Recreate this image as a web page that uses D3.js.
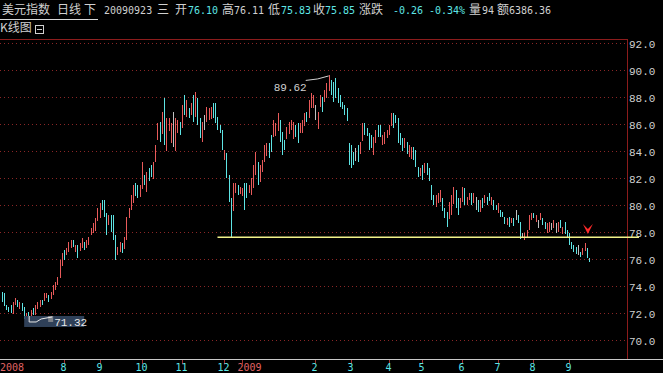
<!DOCTYPE html>
<html>
<head>
<meta charset="utf-8">
<script src="https://cdn.jsdelivr.net/npm/d3@7"></script>
<style>
  html, body { margin: 0; padding: 0; background: #000; }
  svg { display: block; }
</style>
</head>
<body>
<div id="chart"></div>
<script>
// daily bars, [open, high, low, close]
const bars = [
  [73.5,73.6,72.86,73.0],[73.3,73.47,72.49,72.7],[72.55,72.61,72.24,72.3],[72.45,72.49,72.12,72.2],[72.5,72.61,71.99,72.1],
  [72.1,72.86,71.99,72.8],[72.7,73.11,72.61,73.0],[72.9,72.98,72.49,72.6],[72.45,72.86,72.37,72.75],[72.7,72.74,72.12,72.2],
  [72.4,72.49,71.63,71.8],[71.5,72.0,71.32,71.9],[72.0,72.12,71.63,71.7],[71.8,72.24,71.75,72.2],[72.3,72.37,71.87,71.95],
  [71.95,72.61,71.87,72.55],[72.45,72.86,72.37,72.8],[72.6,72.98,72.49,72.9],[72.9,72.98,72.61,72.7],[72.9,73.47,72.86,73.4],
  [73.15,73.47,73.11,73.4],[73.3,73.35,72.86,72.95],[73.15,73.6,73.11,73.55],[73.4,74.1,73.35,74.0],[73.8,74.34,73.72,74.3],
  [74.15,74.71,74.1,74.65],[74.7,75.95,74.59,75.85],[75.6,76.44,75.45,76.35],[76.6,76.69,75.95,76.1],[76.4,76.81,76.32,76.75],
  [76.65,77.31,76.56,77.2],[76.9,77.43,76.81,77.35],[77.35,77.43,76.93,77.0],[76.6,77.06,76.56,77.0],[76.95,77.06,76.07,76.2],
  [76.6,77.18,76.56,77.1],[76.9,77.55,76.81,77.45],[77.25,77.31,76.69,76.8],[76.85,77.43,76.81,77.35],[77.1,77.68,77.06,77.6],
  [77.85,78.29,77.8,78.25],[78.0,78.66,77.92,78.6],[78.1,79.03,78.05,78.95],[78.85,79.77,78.79,79.7],[79.1,80.14,79.03,80.05],
  [80.3,80.39,79.65,79.75],[80.2,80.39,79.16,79.3],[79.3,79.4,77.8,78.0],[78.6,79.28,78.54,79.2],[79.2,79.28,78.05,78.2],
  [79.1,79.28,77.43,77.6],[77.6,77.8,75.95,76.1],[76.35,76.93,76.32,76.85],[76.6,77.31,76.56,77.2],[77.1,77.18,76.44,76.6],
  [76.9,77.68,76.81,77.6],[77.5,79.16,77.43,79.0],[79.1,79.77,79.03,79.7],[79.7,80.76,79.65,80.7],[80.2,81.5,80.14,81.4],
  [81.5,81.63,80.64,80.8],[81.4,81.5,80.51,80.6],[80.7,81.5,80.64,81.4],[81.35,83.23,81.26,82.9],[82.2,82.24,81.5,81.6],
  [81.1,82.49,81.01,82.4],[82.6,82.74,81.75,81.9],[82.9,82.98,82.12,82.2],[82.1,83.23,82.0,83.1],[83.3,84.47,83.23,84.4],
  [84.9,86.07,84.84,86.0],[86.1,86.19,84.71,84.9],[85.4,86.93,85.33,86.8],[87.8,87.92,84.47,84.8],[84.2,86.44,83.97,86.3],
  [85.5,86.44,85.45,86.35],[84.7,86.07,84.59,86.0],[85.5,86.93,84.34,85.5],[84.1,86.44,83.97,86.3],[85.4,86.32,85.33,86.2],
  [86.1,86.19,85.21,85.3],[85.8,87.43,85.7,87.3],[88.0,88.17,86.69,86.9],[86.6,87.8,86.56,87.7],[87.1,87.18,86.44,86.5],
  [86.75,87.55,86.69,87.45],[88.0,88.17,86.19,86.4],[86.6,88.42,86.56,88.3],[87.8,87.92,85.95,86.1],[86.3,86.44,84.96,85.1],
  [84.8,86.19,84.71,86.1],[86.1,86.69,85.58,86.1],[86.3,87.3,86.19,87.2],[86.4,87.18,86.32,87.1],[86.5,87.3,86.44,87.2],
  [87.45,87.55,86.44,86.6],[87.4,87.55,86.07,86.2],[86.5,86.56,85.58,85.7],[85.9,85.95,85.33,85.4],[85.5,85.58,84.1,84.2],
  [83.45,84.1,83.35,84.0],[83.8,83.85,82.0,82.2],[82.1,82.24,80.27,80.5],[80.4,80.51,77.63,78.0],[79.6,81.62,79.53,81.5],
  [80.95,81.62,80.88,81.55],[81.4,81.5,80.76,80.9],[80.95,81.38,80.88,81.3],[80.7,81.25,80.64,81.2],[81.5,81.62,79.65,80.0],
  [81.5,81.62,80.51,80.7],[80.95,81.5,80.88,81.4],[80.85,81.99,80.76,81.9],[81.35,82.98,81.25,82.9],[82.3,83.97,82.24,83.9],
  [83.1,83.23,81.5,81.7],[81.8,82.98,81.75,82.9],[82.55,83.35,82.49,83.3],[83.3,84.47,83.23,84.4],[83.65,84.59,83.6,84.5],
  [84.5,84.59,83.48,83.6],[85.1,85.21,83.97,84.1],[85.15,86.32,85.08,86.2],[85.15,86.07,85.08,86.0],[85.5,86.81,85.45,86.7],
  [86.2,86.32,84.71,84.9],[85.3,85.45,83.72,83.9],[84.8,84.84,84.1,84.2],[85.0,85.82,84.96,85.75],[85.4,86.19,85.33,86.1],
  [85.65,86.32,85.58,86.25],[85.0,86.19,84.96,86.1],[85.9,85.95,85.08,85.15],[85.95,86.07,84.59,84.8],[85.4,86.07,85.33,86.0],
  [85.4,86.32,85.33,86.25],[85.9,86.81,85.82,86.75],[86.85,86.93,86.19,86.25],[86.5,87.8,86.44,87.7],[87.25,88.29,87.18,88.2],
  [87.25,88.17,87.18,88.1],[86.9,87.43,86.32,86.9],[85.8,86.93,85.7,86.85],[87.35,88.17,87.3,88.1],[87.95,88.04,86.93,87.0],
  [87.7,88.54,87.67,88.45],[87.95,89.03,87.92,88.95],[88.5,89.62,88.41,89.5],[89.2,89.28,88.17,88.3],[89.0,89.16,87.67,87.8],
  [89.3,89.4,87.92,88.1],[88.6,88.66,87.55,87.6],[88.1,88.17,87.3,87.4],[87.6,87.67,87.18,87.25],[87.4,87.43,86.69,86.8],
  [87.1,87.18,86.19,86.3],[84.5,84.59,82.98,83.2],[84.4,84.47,82.74,82.9],[83.9,83.97,82.98,83.1],[83.7,84.22,83.23,83.7],
  [84.4,84.47,83.23,83.4],[83.9,84.71,83.85,84.65],[84.8,86.07,84.71,86.0],[86.0,86.07,85.21,85.3],[85.65,85.7,85.08,85.15],
  [85.25,85.33,84.1,84.2],[85.15,85.21,84.22,84.3],[83.8,85.08,83.72,85.0],[84.65,85.58,84.59,85.5],[85.9,85.95,85.08,85.15],
  [85.85,85.95,85.08,85.2],[84.55,85.21,84.47,85.15],[84.65,85.45,84.59,85.4],[85.0,85.58,84.96,85.5],[85.25,85.95,85.21,85.9],
  [85.9,86.81,85.82,86.75],[86.7,86.81,85.7,85.8],[86.6,86.69,86.07,86.15],[86.35,86.44,84.59,84.7],[85.25,85.33,84.47,84.55],
  [84.9,84.96,83.97,84.05],[84.3,84.96,84.22,84.9],[84.65,84.71,83.85,83.95],[83.65,84.47,83.6,84.4],[83.55,84.34,83.48,84.25],
  [84.25,84.34,83.36,83.45],[84.0,84.1,82.86,83.0],[82.8,82.86,82.12,82.2],[82.2,82.74,82.12,82.7],[82.9,82.99,81.87,82.0],
  [82.45,83.11,82.37,83.05],[83.0,83.11,82.24,82.35],[82.65,82.74,81.75,81.85],[81.4,81.5,80.39,80.5],[80.7,80.76,80.02,80.1],
  [80.0,80.76,79.9,80.7],[80.2,80.89,80.15,80.8],[80.35,81.13,80.27,81.05],[80.45,80.52,79.53,79.6],[79.7,79.78,79.04,79.1],
  [79.45,79.53,78.42,78.5],[79.1,80.27,79.04,80.2],[79.35,80.76,79.28,80.7],[80.2,81.38,80.15,81.3],[81.05,81.13,79.78,79.9],
  [80.45,80.52,79.28,79.4],[79.85,80.52,79.78,80.45],[80.35,81.38,80.27,81.3],[81.15,81.26,80.02,80.1],[80.1,80.64,80.02,80.6],
  [80.45,80.89,80.39,80.85],[80.8,80.89,80.02,80.1],[80.2,80.89,80.15,80.85],[80.1,80.64,79.65,80.1],[80.3,80.39,79.53,79.6],
  [79.6,80.39,79.53,80.3],[80.45,80.52,79.78,79.85],[80.2,80.76,80.15,80.7],[80.6,80.64,80.02,80.1],[80.85,80.89,80.27,80.35],
  [80.1,80.64,80.02,80.6],[80.35,80.39,79.65,79.75],[80.0,80.02,79.65,79.7],[79.45,80.15,79.41,80.1],[79.6,79.65,79.16,79.2],
  [79.5,79.53,79.16,79.2],[79.1,79.16,78.67,78.75],[78.6,79.04,78.54,79.0],[79.1,79.16,78.42,78.5],[78.7,79.04,78.67,79.0],
  [79.0,79.04,78.42,78.5],[79.2,79.65,78.91,79.2],[79.2,79.28,78.67,78.75],[78.7,78.79,77.55,77.7],[77.75,77.92,77.55,77.75],
  [77.5,77.92,77.43,77.9],[77.7,78.17,77.68,78.1],[78.2,79.28,78.17,79.2],[78.95,79.41,78.91,79.35],[79.35,79.41,79.04,79.1],
  [78.85,79.28,78.79,79.2],[78.6,78.91,78.29,78.6],[78.95,79.41,78.91,79.35],[79.0,79.04,78.54,78.6],[78.75,78.79,78.29,78.35],
  [78.0,78.66,77.92,78.6],[78.1,78.79,78.05,78.7],[78.4,78.66,78.17,78.4],[78.35,78.91,78.29,78.85],[78.3,78.66,77.92,78.3],
  [78.1,78.79,78.05,78.7],[78.85,78.91,78.29,78.35],[77.95,78.42,77.92,78.35],[78.7,78.79,77.92,78.0],[78.1,78.17,77.68,77.75],
  [77.85,77.92,77.06,77.15],[77.25,77.31,76.81,76.9],[77.0,77.06,76.57,76.65],[76.9,76.94,76.44,76.5],[76.7,77.06,76.32,76.7],
  [76.5,76.57,76.2,76.25],[76.35,76.81,76.32,76.75],[76.6,77.18,76.57,77.1],[76.75,76.81,76.07,76.11],[76.10,76.11,75.83,75.85]
];

const yTicks = [70, 72, 74, 76, 78, 80, 82, 84, 86, 88, 90, 92];
const monthLabels = ["2008", "8", "9", "10", "11", "12", "2009", "2", "3", "4", "5", "6", "7", "8", "9"];
const monthIdx = [0, 28, 44, 63, 81, 100, 108, 141, 157, 174, 189, 207, 223, 239, 255];

const lastDate = "20090923", lastWeekday = "三";
const lastVolume = 94, lastAmount = 6386.36;
const supportLevel = 77.63, supportFrom = 97;   // drawn horizontal line
const signalIdx = 263.5, signalPrice = 77.87;   // red arrow

const width = 663, height = 373;
const UP = "#e85a5a", DOWN = "#5ee4e4", FLAT = "#c0c0c0";
const TXT = "#d0d0d0", CYAN = "#5ee6e6", GRID = "#8a2626";
const cjk = "'Noto Sans CJK SC', sans-serif";
const mono = "'DejaVu Sans Mono', monospace";

const svg = d3.select("#chart").append("svg")
    .attr("width", width)
    .attr("height", height)
    .style("background", "#000");

const x = d3.scaleLinear().domain([0, bars.length - 1]).range([1.7, 589]);
const y = d3.scaleLinear().domain([70, 92]).range([340.3, 43.3]);

// grid
svg.append("g").selectAll("line")
    .data(yTicks)
    .join("line")
    .attr("x1", 0).attr("x2", 627)
    .attr("y1", d => Math.round(y(d)) + 0.5)
    .attr("y2", d => Math.round(y(d)) + 0.5)
    .attr("stroke", GRID)
    .attr("stroke-dasharray", "1,3");

// frame
svg.append("line").attr("x1", 0).attr("x2", 628).attr("y1", 39.5).attr("y2", 39.5).attr("stroke", "#8c1c1c");
svg.append("line").attr("x1", 627.5).attr("x2", 627.5).attr("y1", 39).attr("y2", 359).attr("stroke", "#8c1c1c");

// y labels
svg.append("g").selectAll("text")
    .data(yTicks)
    .join("text")
    .attr("x", 629)
    .attr("y", d => y(d) + 1)
    .attr("dy", "0.35em")
    .attr("fill", TXT)
    .style("font", `11px 'Liberation Mono', monospace`)
    .text(d => d.toFixed(1));

// candles (1px lines at this density)
svg.append("g").selectAll("rect")
    .data(bars)
    .join("rect")
    .attr("x", (d, i) => Math.round(x(i)))
    .attr("y", d => Math.round(y(d[1])))
    .attr("width", 1)
    .attr("height", d => Math.max(1, Math.round(y(d[2]) - y(d[1]))))
    .attr("fill", d => d[3] > d[0] ? UP : d[3] < d[0] ? DOWN : FLAT)
    .attr("shape-rendering", "crispEdges");

// support line
svg.append("line")
    .attr("x1", x(supportFrom)).attr("x2", 639)
    .attr("y1", y(supportLevel)).attr("y2", y(supportLevel))
    .attr("stroke", "#f2f28a")
    .attr("stroke-width", 1.4);

// signal arrow
const ax = x(signalIdx), ay = y(signalPrice);
svg.append("path")
    .attr("d", `M${ax - 5},${ay - 10} L${ax},${ay - 5} L${ax + 5},${ay - 10} L${ax},${ay} Z`)
    .attr("fill", "#ff2a2a");

// peak annotation
const hiIdx = d3.maxIndex(bars, d => d[1]);
const px = x(hiIdx), py = y(bars[hiIdx][1]);
svg.append("polyline")
    .attr("points", [[px - 23, py + 5], [px - 11, py + 3.5], [px, py + 0.5]].join(" "))
    .attr("fill", "none").attr("stroke", TXT);
svg.append("text")
    .attr("x", px - 55).attr("y", py + 16)
    .attr("fill", TXT)
    .style("font", `11px 'Liberation Mono', monospace`)
    .text(bars[hiIdx][1].toFixed(2));

// low annotation (highlighted)
const loIdx = d3.minIndex(bars, d => d[2]);
const lx = x(loIdx), ly = y(bars[loIdx][2]);
svg.append("rect").attr("x", lx - 2).attr("y", ly - 6.5).attr("width", 60).attr("height", 11).attr("fill", "#2f4058");
svg.append("rect").attr("x", lx + 22).attr("y", ly - 6.5).attr("width", 5).attr("height", 6).attr("fill", "#7c8088");
svg.append("polyline")
    .attr("points", [[lx + 3, ly - 6.5], [lx + 3, ly - 0.5], [lx + 10, ly - 0.5], [lx + 15, ly - 3.5], [lx + 26, ly - 5.5]].join(" "))
    .attr("fill", "none").attr("stroke", "#e8e8e8");
svg.append("text")
    .attr("x", lx + 28).attr("y", ly + 3.5)
    .attr("fill", "#e8e8e8")
    .style("font", `11px 'Liberation Mono', monospace`)
    .text(bars[loIdx][2].toFixed(2));

// x axis
svg.append("line").attr("x1", 0).attr("x2", width).attr("y1", 359.5).attr("y2", 359.5).attr("stroke", "#c8c8c8");
const xt = svg.append("g");
monthIdx.forEach((idx, k) => {
    const tx = Math.round(x(idx)) + 0.5;
    const isYear = monthLabels[k].length === 4;
    if (idx > 0) {
        xt.append("line").attr("x1", tx).attr("x2", tx).attr("y1", 360).attr("y2", 364).attr("stroke", "#a03030");
    }
    xt.append("text")
        .attr("x", isYear ? Math.max(0, tx - 5) : tx - 1)
        .attr("y", 371)
        .attr("text-anchor", isYear ? "start" : "middle")
        .attr("fill", isYear ? "#e06464" : CYAN)
        .style("font", `10px ${mono}`)
        .text(monthLabels[k]);
});

// header
const last = bars[bars.length - 1], prev = bars[bars.length - 2];
const chg = last[3] - prev[3];
const header = [
    ["美元指数", 2, TXT, cjk], ["日线", 57, TXT, cjk], ["下", 84, TXT, cjk],
    [lastDate, 104, TXT, mono], [lastWeekday, 157, TXT, cjk],
    ["开", 175, TXT, cjk], [last[0].toFixed(2), 188, CYAN, mono],
    ["高", 222, TXT, cjk], [last[1].toFixed(2), 234, TXT, mono],
    ["低", 268, TXT, cjk], [last[2].toFixed(2), 281, CYAN, mono],
    ["收", 313, TXT, cjk], [last[3].toFixed(2), 325, CYAN, mono],
    ["涨跌", 359, TXT, cjk], [chg.toFixed(2), 393, CYAN, mono],
    [(chg / prev[3] * 100).toFixed(2) + "%", 429, CYAN, mono],
    ["量", 469, TXT, cjk], [String(lastVolume), 482, TXT, mono],
    ["额", 497, TXT, cjk], [lastAmount.toFixed(2), 509, TXT, mono]
];
svg.append("g").selectAll("text")
    .data(header)
    .join("text")
    .attr("x", d => d[1])
    .attr("y", 14)
    .attr("fill", d => d[2])
    .style("font-family", d => d[3])
    .style("font-size", d => d[3] === cjk ? "12px" : "10px")
    .text(d => d[0]);
svg.append("line").attr("x1", 0).attr("x2", 98).attr("y1", 19.5).attr("y2", 19.5).attr("stroke", "#d8d8d8");

svg.append("text").attr("x", 0).attr("y", 32).attr("fill", TXT)
    .style("font", `12px ${cjk}`).text("K线图");
svg.append("rect").attr("x", 35.5).attr("y", 25.5).attr("width", 8).attr("height", 8)
    .attr("fill", "none").attr("stroke", TXT);
svg.append("line").attr("x1", 37).attr("x2", 42).attr("y1", 29.5).attr("y2", 29.5).attr("stroke", TXT);
</script>
</body>
</html>
